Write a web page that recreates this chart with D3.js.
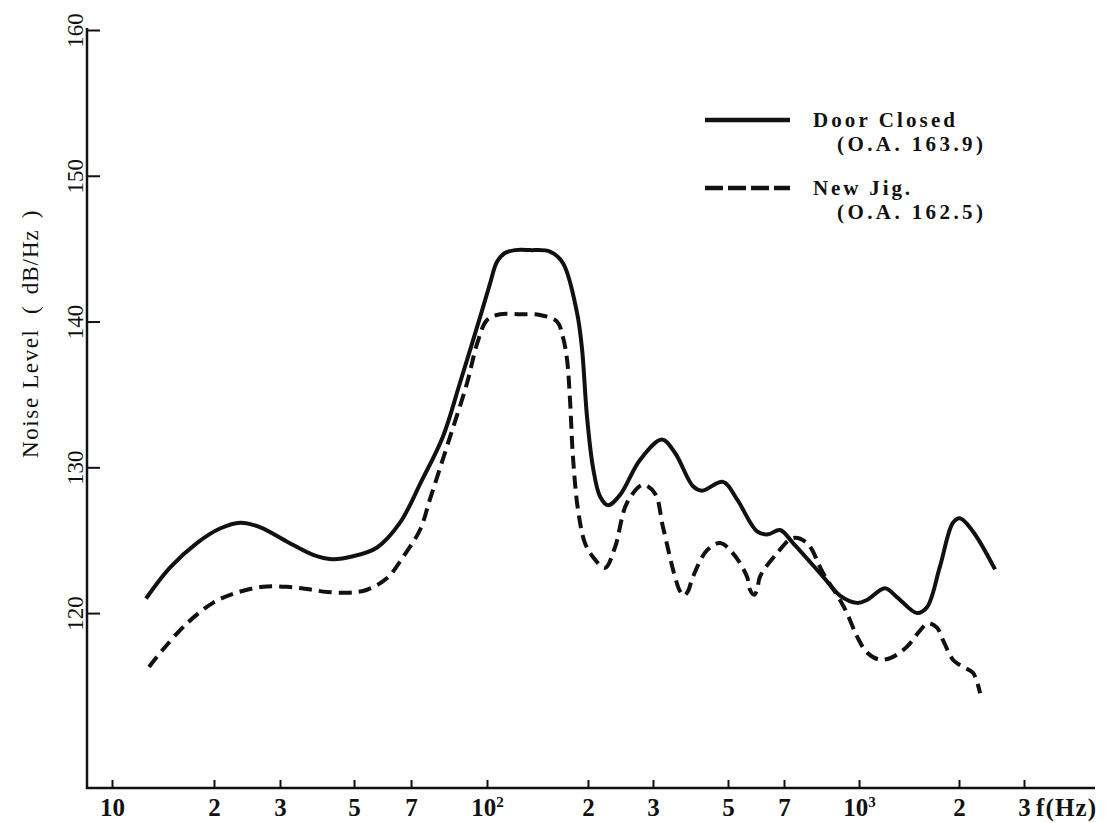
<!DOCTYPE html>
<html>
  <head>
    <meta charset="utf-8">
    <title>Noise level spectrum</title>
    <script src="https://cdn.jsdelivr.net/npm/d3@7"></script>
    <style>
      body { margin: 0; background: #fff; }
      svg { display: block; }
      .serif { font-family: "Liberation Serif", "DejaVu Serif", serif; fill: #111; }
    </style>
  </head>

  <body>
    <div id="chart"></div>

    <script>
      // data: [frequency (Hz), noise level (dB/Hz)]
      const doorClosed = [
        [12.6, 121.0], [14.8, 123.1], [17.8, 124.8], [20.75, 125.8], [23.5, 126.2],
        [26.5, 125.9], [31.5, 124.9], [37.7, 124.0], [43.0, 123.7], [49.7, 123.9],
        [57.3, 124.5], [65.6, 126.2], [73.4, 129.0], [81.3, 132.1],
        [88.1, 135.8], [96.8, 140.3], [102.1, 142.6], [107.1, 144.1], [113.1, 144.7],
        [121.2, 144.9], [134.4, 144.9], [154.1, 144.8], [168.5, 144.0], [185.5, 140.6],
        [192, 138.1], [198.6, 133.5], [206.3, 130.0], [215.6, 128.0], [226.6, 127.4],
        [244.2, 128.1], [276.6, 130.5], [318.9, 131.9], [348.3, 131.0], [393.9, 128.7],
        [418.8, 128.4], [483.3, 129.0], [528, 127.8], [595.5, 125.6], [636, 125.4],
        [683.5, 125.7], [730.8, 124.8], [842.8, 122.5], [913.5, 121.2], [990.5, 120.7],
        [1057, 120.9], [1197, 121.7], [1301, 121.1], [1495, 120.0], [1602, 120.4],
        [1753, 123.2], [1918, 126.2], [2012, 126.5], [2182, 125.6], [2504, 123.0]
      ];
      const newJig = [
        [12.86, 116.3], [14.14, 117.5], [16.65, 119.3], [19.86, 120.7], [23.0, 121.4],
        [27.0, 121.8], [31.5, 121.8], [36.1, 121.65], [41.5, 121.45], [48.6, 121.4],
        [54.0, 121.6], [60.8, 122.4], [66.8, 123.85], [73.0, 125.7], [76.5, 127.8],
        [84.1, 132.1], [91.1, 135.8], [95.5, 138.5], [100, 140.1], [109.3, 140.5],
        [125.4, 140.5], [143.9, 140.45], [161.7, 140.0], [168.5, 138.9], [173.2, 137.4],
        [176.8, 134.6], [180.4, 130.7], [186.7, 127.1], [195.9, 124.8], [206.3, 123.85],
        [222.4, 123.1], [236.6, 124.5], [255.0, 127.55], [281.8, 128.8], [304.1, 128.2],
        [321.1, 125.9], [348.3, 122.5], [360.6, 121.5], [370.6, 121.2], [380.7, 121.5],
        [393.9, 122.5], [433.1, 124.3], [473.5, 124.8], [515.2, 124.1], [560.6, 122.5],
        [570.6, 121.6], [584.7, 121.25], [595.5, 121.6], [606.1, 122.5], [671.1, 124.1],
        [730.8, 125.15], [781.2, 124.8], [842.8, 122.75], [913.5, 120.9], [944.2, 120.0],
        [990.5, 118.4], [1057, 117.3], [1157, 116.8], [1266, 117.0], [1395, 117.7],
        [1526, 118.8], [1613, 119.3], [1717, 119.0], [1790, 118.15], [1918, 116.8],
        [2050, 116.3], [2182, 115.9], [2281, 114.5]
      ];

      // axis ticks
      const xTicks = [10, 20, 30, 50, 70, 100, 200, 300, 500, 700, 1000, 2000, 3000];
      const xTickLabels = ["10", "2", "3", "5", "7", "10^2", "2", "3", "5", "7", "10^3", "2", "3"];
      const yTicks = [120, 130, 140, 150, 160];

      // legend entries
      const series = [
        { name: "Door Closed", oa: "(O.A. 163.9)", data: doorClosed, dash: null },
        { name: "New Jig.", oa: "(O.A. 162.5)", data: newJig, dash: "13,7" }
      ];

      const width = 1112, height = 823;
      const svg = d3.select("#chart")
        .append("svg")
          .attr("width", width)
          .attr("height", height);

      // the printed axis is hand-ruled, so the log scale is pinned at each tick
      const x = d3.scaleLog()
        .domain(xTicks)
        .range([112, 214, 280, 354, 411, 487, 588, 653, 728, 784, 859, 959, 1024]);
      const y = d3.scaleLinear()
        .domain([108, 160])
        .range([788, 30]);

      // x axis
      const xAxis = svg.append("g")
        .attr("transform", "translate(0,788)")
        .call(d3.axisBottom(x)
          .tickValues(xTicks)
          .tickSize(-8)
          .tickSizeOuter(0)
          .tickPadding(10)
          .tickFormat(""));
      xAxis.select(".domain")
        .attr("d", "M86,0H1095")
        .attr("stroke", "#111")
        .attr("stroke-width", 2.5);
      xAxis.selectAll(".tick line")
        .attr("stroke", "#111")
        .attr("stroke-width", 2);
      xAxis.selectAll(".tick text")
        .attr("class", "serif")
        .attr("font-size", 25)
        .attr("font-weight", "bold")
        .attr("dy", "0.72em")
        .each(function(d, i) {
          let parts = xTickLabels[i].split("^");
          let t = d3.select(this);
          t.append("tspan").text(parts[0]);
          if (parts[1]) {
            t.append("tspan")
              .attr("font-size", 15)
              .attr("dy", "-0.6em")
              .text(parts[1]);
          }
        });
      svg.append("text")
        .attr("class", "serif")
        .attr("x", 1036)
        .attr("y", 816)
        .attr("font-size", 25)
        .attr("font-weight", "bold")
        .attr("textLength", 60)
        .attr("lengthAdjust", "spacing")
        .text("f(Hz)");

      // y axis
      const yAxis = svg.append("g")
        .attr("transform", "translate(87,0)")
        .call(d3.axisLeft(y)
          .tickValues(yTicks)
          .tickSize(-13)
          .tickSizeOuter(0));
      yAxis.select(".domain")
        .attr("d", "M0,28V789")
        .attr("stroke", "#111")
        .attr("stroke-width", 2.5);
      yAxis.selectAll(".tick line")
        .attr("stroke", "#111")
        .attr("stroke-width", 2);
      yAxis.selectAll(".tick text")
        .attr("class", "serif")
        .attr("font-size", 23)
        .attr("x", 0)
        .attr("dy", 0)
        .attr("text-anchor", "middle")
        .attr("transform", "translate(-4,0) rotate(-90)")
        .text(function(d) { return d; });

      // y title, set in two pieces like the original typesetting
      svg.append("text")
        .attr("class", "serif")
        .attr("transform", "translate(38,458) rotate(-90)")
        .attr("font-size", 23)
        .attr("textLength", 128)
        .attr("lengthAdjust", "spacing")
        .text("Noise Level");
      const unit = svg.append("text")
        .attr("class", "serif")
        .attr("transform", "translate(38,314) rotate(-90)")
        .attr("font-size", 23);
      unit.append("tspan").text("(");
      unit.append("tspan").attr("dx", 12).attr("letter-spacing", 1).text("dB/Hz");
      unit.append("tspan").attr("dx", 11).text(")");

      // curves
      const line = d3.line()
        .x(function(d) { return x(d[0]); })
        .y(function(d) { return y(d[1]); })
        .curve(d3.curveCatmullRom.alpha(0.5));

      svg.selectAll(".curve")
        .data(series)
        .enter().append("path")
          .classed("curve", true)
          .attr("d", function(d) { return line(d.data); })
          .attr("fill", "none")
          .attr("stroke", "#111")
          .attr("stroke-width", 4)
          .attr("stroke-linejoin", "round")
          .attr("stroke-dasharray", function(d) { return d.dash; });

      // legend
      const legend = svg.selectAll(".legend")
        .data(series)
        .enter().append("g")
          .classed("legend", true)
          .attr("transform", function(d, i) { return "translate(705," + (120 + i * 68) + ")"; });
      legend.append("line")
        .attr("x1", 0)
        .attr("x2", 85)
        .attr("stroke", "#111")
        .attr("stroke-width", 4.5)
        .attr("stroke-dasharray", function(d) { return d.dash ? "18,5" : null; });
      legend.append("text")
        .attr("class", "serif")
        .attr("x", 108)
        .attr("y", 7)
        .attr("font-size", 21)
        .attr("font-weight", "bold")
        .attr("textLength", function(d, i) { return i ? 97 : 142; })
        .attr("lengthAdjust", "spacing")
        .text(function(d) { return d.name; });
      legend.append("text")
        .attr("class", "serif")
        .attr("x", 132)
        .attr("y", 31)
        .attr("font-size", 21)
        .attr("font-weight", "bold")
        .attr("textLength", 146)
        .attr("lengthAdjust", "spacing")
        .text(function(d) { return d.oa; });
    </script>
  </body>
</html>
